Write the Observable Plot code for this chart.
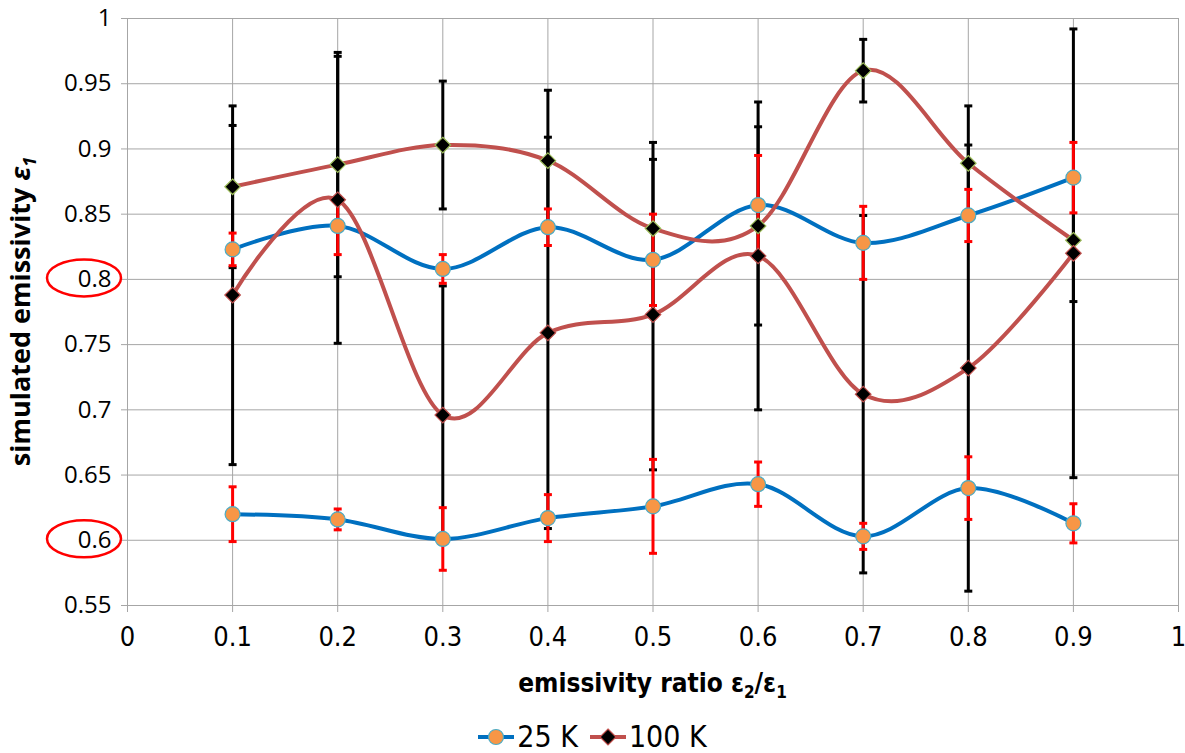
<!DOCTYPE html>
<html>
<head>
<meta charset="utf-8">
<script src="https://cdn.jsdelivr.net/npm/d3@7"></script>
<script src="https://cdn.jsdelivr.net/npm/@observablehq/plot@0.6"></script>
<style>
  html, body { margin: 0; padding: 0; background: #fff; }
  #chart { width: 1185px; }
  #chart svg { display: block; background: #fff; }
  #chart [aria-label="x-axis tick label"] text { font-family: "Liberation Sans Narrow", "DejaVu Sans Condensed", sans-serif; font-size: 27px; fill: #000; }
  #chart [aria-label="y-axis tick label"] text { font-family: "Open Sans", sans-serif; font-size: 24px; fill: #000; }
  #legend { width: 1185px; height: 33px; display: flex; justify-content: center; align-items: center; font-family: "Liberation Sans Narrow", "DejaVu Sans Condensed", sans-serif; font-size: 30px; color: #000; }
  #legend .item { display: flex; align-items: center; margin: 0 6px; }
  #legend svg { display: block; margin-right: 3px; }
</style>
</head>
<body>
<div id="chart"></div>
<div id="legend"></div>
<script>
// ---- data ----
const ratios = [0.1, 0.2, 0.3, 0.4, 0.5, 0.6, 0.7, 0.8, 0.9];
// 25 K, upper and lower curves
const k25Upper = [0.823, 0.841, 0.808, 0.840, 0.815, 0.857, 0.828, 0.849, 0.878];
const k25UpperErr = [0.0125, 0.022, 0.011, 0.014, 0.035, 0.038, 0.028, 0.020, 0.027];
const k25Lower = [0.620, 0.616, 0.601, 0.617, 0.626, 0.643, 0.603, 0.640, 0.613];
const k25LowerErr = [0.021, 0.008, 0.024, 0.018, 0.036, 0.017, 0.010, 0.024, 0.015];
// 100 K, upper and lower curves
const k100Upper = [0.871, 0.888, 0.903, 0.891, 0.839, 0.841, 0.960, 0.889, 0.830];
const k100UpperErr = [0.062, 0.086, 0.049, 0.054, 0.066, 0.076, 0.024, 0.044, 0.047];
const k100Lower = [0.788, 0.861, 0.696, 0.759, 0.773, 0.818, 0.712, 0.732, 0.820];
const k100LowerErr = [0.130, 0.110, 0.099, 0.150, 0.119, 0.118, 0.137, 0.171, 0.172];
const xTicks = [0, 0.1, 0.2, 0.3, 0.4, 0.5, 0.6, 0.7, 0.8, 0.9, 1];
const xTickLabels = ["0", "0.1", "0.2", "0.3", "0.4", "0.5", "0.6", "0.7", "0.8", "0.9", "1"];
const yTicks = [0.55, 0.6, 0.65, 0.7, 0.75, 0.8, 0.85, 0.9, 0.95, 1];
const yTickLabels = ["0.55", "0.6", "0.65", "0.7", "0.75", "0.8", "0.85", "0.9", "0.95", "1"];
const highlightedTicks = [0.8, 0.6];

// ---- build tables ----
const mk = (vals, errs) => ratios.map((x, i) => ({x, y: vals[i], lo: vals[i] - errs[i], hi: vals[i] + errs[i]}));
const s25u = mk(k25Upper, k25UpperErr);
const s25l = mk(k25Lower, k25LowerErr);
const s100u = mk(k100Upper, k100UpperErr);
const s100l = mk(k100Lower, k100LowerErr);
const s25 = s25u.concat(s25l);
const s100 = s100u.concat(s100l);

const capSymbol = {
  draw(context, size) {
    const w = Math.sqrt(size / Math.PI);
    context.moveTo(-w, 0);
    context.lineTo(w, 0);
  }
};

const BLUE = "#0070C0", RED = "#C0504D", ORANGE = "#F79646", GRID = "#a6a6a6";

const errMarks = (data, color) => [
  Plot.ruleX(data, {x: "x", y1: "lo", y2: "hi", stroke: color, strokeWidth: 3}),
  Plot.dot(data, {x: "x", y: "lo", symbol: capSymbol, r: 4, fill: "none", stroke: color, strokeWidth: 3}),
  Plot.dot(data, {x: "x", y: "hi", symbol: capSymbol, r: 4, fill: "none", stroke: color, strokeWidth: 3})
];

const chart = Plot.plot({
  width: 1185,
  height: 720,
  marginLeft: 127,
  marginRight: 7,
  marginTop: 18,
  marginBottom: 115,
  style: {background: "#fff"},
  x: {domain: [0, 1], ticks: xTicks, label: null},
  y: {domain: [0.55, 1], ticks: yTicks, label: null},
  marks: [
    Plot.gridX(xTicks, {stroke: GRID, strokeOpacity: 1, strokeWidth: 1}),
    Plot.gridY(yTicks, {stroke: GRID, strokeOpacity: 1, strokeWidth: 1}),
    Plot.axisX({ticks: xTicks, tickFormat: (d) => xTickLabels[xTicks.findIndex(t => Math.abs(t - d) < 1e-9)], tickSize: 7, tickPadding: 14, stroke: GRID, label: null}),
    Plot.axisY({ticks: yTicks, tickFormat: (d) => yTickLabels[yTicks.findIndex(t => Math.abs(t - d) < 1e-9)], tickSize: 6, tickPadding: 10, stroke: GRID, label: null}),
    ...errMarks(s100, "#000"),
    ...errMarks(s25, "#ff0000"),
    Plot.line(s25u, {x: "x", y: "y", stroke: BLUE, strokeWidth: 4, curve: "cardinal"}),
    Plot.line(s25l, {x: "x", y: "y", stroke: BLUE, strokeWidth: 4, curve: "cardinal"}),
    Plot.line(s100u, {x: "x", y: "y", stroke: RED, strokeWidth: 4, curve: "cardinal"}),
    Plot.line(s100l, {x: "x", y: "y", stroke: RED, strokeWidth: 4, curve: "cardinal"}),
    Plot.dot(s25, {x: "x", y: "y", r: 7.5, fill: ORANGE, stroke: "#4BACC6", strokeWidth: 1.2}),
    Plot.dot(s100u, {x: "x", y: "y", symbol: "diamond2", r: 7, fill: "#000", stroke: "#9BBB59", strokeWidth: 1.2}),
    Plot.dot(s100l, {x: "x", y: "y", symbol: "diamond2", r: 7, fill: "#000", stroke: RED, strokeWidth: 1.2})
  ]
});
document.getElementById("chart").appendChild(chart);

// ---- annotations and axis titles ----
const sx = chart.scale("x"), sy = chart.scale("y");
const svg = d3.select(chart);
const plotLeft = sx.apply(0), plotRight = sx.apply(1), plotTop = sy.apply(1), plotBottom = sy.apply(0.55);

for (const v of highlightedTicks) {
  svg.append("ellipse")
    .attr("cx", plotLeft - 43).attr("cy", sy.apply(v) - 1)
    .attr("rx", 37).attr("ry", 18.5)
    .attr("fill", "none").attr("stroke", "#ff0000").attr("stroke-width", 2.5);
}

const yTitle = svg.append("text")
  .attr("transform", `translate(30,${(plotTop + plotBottom) / 2}) rotate(-90)`)
  .attr("text-anchor", "middle")
  .attr("font-family", "'Open Sans', sans-serif")
  .attr("font-weight", "bold")
  .attr("font-size", 27)
  .attr("fill", "#000");
yTitle.append("tspan").text("simulated emissivity ");
yTitle.append("tspan").attr("font-style", "italic").text("ε");
yTitle.append("tspan").attr("font-style", "italic").attr("font-size", 18).attr("dy", 6).text("1");

const xTitle = svg.append("text")
  .attr("x", (plotLeft + plotRight) / 2).attr("y", plotBottom + 87)
  .attr("text-anchor", "middle")
  .attr("font-family", "'Liberation Sans Narrow', 'DejaVu Sans Condensed', sans-serif")
  .attr("font-weight", "bold")
  .attr("font-size", 26)
  .attr("fill", "#000");
xTitle.append("tspan").text("emissivity ratio ε");
xTitle.append("tspan").attr("font-size", 17).attr("dy", 6).text("2");
xTitle.append("tspan").attr("dy", -6).text("/ε");
xTitle.append("tspan").attr("font-size", 17).attr("dy", 6).text("1");

// ---- legend ----
const legendItems = [
  {label: "25 K", line: BLUE, symbol: "circle"},
  {label: "100 K", line: RED, symbol: "diamond"}
];
const legend = d3.select("#legend");
for (const it of legendItems) {
  const item = legend.append("div").attr("class", "item");
  const s = item.append("svg").attr("width", 36).attr("height", 20);
  s.append("line").attr("x1", 0).attr("x2", 36).attr("y1", 10).attr("y2", 10).attr("stroke", it.line).attr("stroke-width", 4);
  if (it.symbol === "circle") {
    s.append("circle").attr("cx", 18).attr("cy", 10).attr("r", 7.5).attr("fill", ORANGE).attr("stroke", "#4BACC6").attr("stroke-width", 1.2);
  } else {
    s.append("path").attr("d", "M18,2L26,10L18,18L10,10Z").attr("fill", "#000").attr("stroke", RED).attr("stroke-width", 1.2);
  }
  item.append("span").text(it.label);
}
</script>
</body>
</html>
